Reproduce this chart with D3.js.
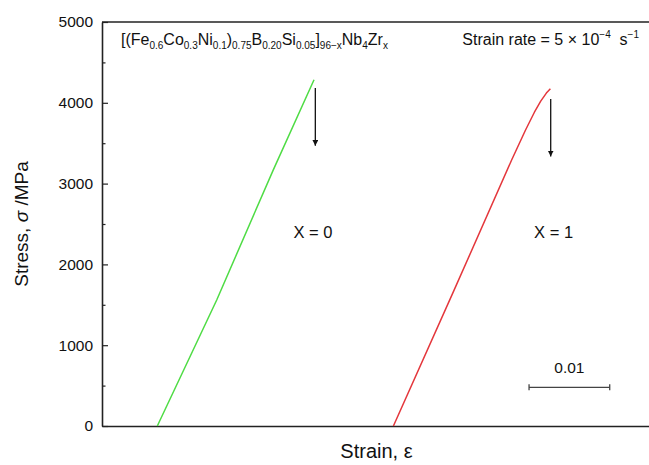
<!DOCTYPE html>
<html>
<head>
<meta charset="utf-8">
<style>
  body { margin: 0; background: #fff; }
  svg { display: block; font-family: "Liberation Sans", Arial, sans-serif; }
</style>
</head>
<body>
<div id="chart"></div>
<script src="https://d3js.org/d3.v7.min.js"></script>
<script>
// stress-strain curves (strain, MPa)
const greenStrain = [0.00687, 0.01425, 0.02128, 0.02634];
const greenStress = [0, 1560, 3170, 4285];
const redStrain = [0.0362, 0.0436, 0.0509, 0.0526, 0.0537, 0.0545, 0.0552, 0.0557];
const redStress = [0, 1650, 3295, 3660, 3880, 4020, 4120, 4175];

// fracture arrows: strain, stress start, stress end
const arrowStrain = [0.0265, 0.05574];
const arrowFrom = [4183, 4046];
const arrowTo = [3468, 3335];

const curveLabels = ["X = 0", "X = 1"];
const labelStrain = [0.0262, 0.0561];
const labelStress = 2330;

const yTicks = [0, 1000, 2000, 3000, 4000, 5000];
const yMinor = [500, 1500, 2500, 3500, 4500];

// scale bar
const barStrain = [0.05305, 0.06307];
const barStress = 479;
const barLabel = "0.01";

const width = 649, height = 465;
const margin = { top: 22, right: 0, bottom: 39, left: 102 };

const svg = d3.select("#chart").append("svg")
    .attr("width", width)
    .attr("height", height);

const x = d3.scaleLinear().domain([0, 0.068]).range([margin.left, margin.left + 0.068 * 8050]);
const y = d3.scaleLinear().domain([0, 5000]).range([height - margin.bottom, margin.top]);

// frame: left axis, bottom axis, top line
const axisColor = "#222";

const yAxis = svg.append("g")
    .attr("transform", `translate(${margin.left},0)`)
    .call(d3.axisLeft(y).tickValues(yTicks).tickSize(-6).tickSizeOuter(0)
      .tickPadding(9).tickFormat(d3.format("d")));
svg.append("g")
    .attr("transform", `translate(${margin.left},0)`)
    .call(d3.axisLeft(y).tickValues(yMinor).tickSize(-3.5).tickSizeOuter(0).tickFormat(""))
    .select(".domain").remove();
yAxis.selectAll("text").attr("font-size", 15.5).attr("fill", "#111").attr("font-family", null);

svg.append("g")
    .attr("transform", `translate(0,${y(0)})`)
    .call(d3.axisBottom(x).tickValues([]).tickSizeOuter(0));

svg.append("line")
    .attr("x1", margin.left).attr("x2", width)
    .attr("y1", y(5000)).attr("y2", y(5000));

svg.selectAll(".domain, .tick line, svg > line")
    .attr("stroke", axisColor)
    .attr("stroke-width", 1.6);
svg.selectAll(".tick line").attr("stroke-width", 1.2);

// curves
const line = d3.line().x(d => x(d[0])).y(d => y(d[1]));

svg.append("path")
    .datum(d3.zip(greenStrain, greenStress))
    .attr("d", line)
    .attr("fill", "none")
    .attr("stroke", "#4fdc45")
    .attr("stroke-width", 1.5);

svg.append("path")
    .datum(d3.zip(redStrain, redStress))
    .attr("d", line)
    .attr("fill", "none")
    .attr("stroke", "#e4373c")
    .attr("stroke-width", 1.5)
    .attr("stroke-linejoin", "round");

// arrows
svg.append("defs").append("marker")
    .attr("id", "head")
    .attr("viewBox", "0 0 10 10")
    .attr("refX", 10).attr("refY", 5)
    .attr("markerWidth", 6).attr("markerHeight", 6)
    .attr("markerUnits", "userSpaceOnUse")
    .attr("orient", "auto")
  .append("path")
    .attr("d", "M0,0 L10,5 L0,10 z")
    .attr("fill", "#111");

svg.selectAll(".arrow")
    .data(arrowStrain)
    .enter().append("line")
    .attr("class", "arrow")
    .attr("x1", d => x(d)).attr("x2", d => x(d))
    .attr("y1", (d, i) => y(arrowFrom[i]))
    .attr("y2", (d, i) => y(arrowTo[i]))
    .attr("stroke", "#111")
    .attr("stroke-width", 1.3)
    .attr("marker-end", "url(#head)");

svg.selectAll(".clabel")
    .data(curveLabels)
    .enter().append("text")
    .attr("class", "clabel")
    .attr("x", (d, i) => x(labelStrain[i]))
    .attr("y", y(labelStress))
    .attr("text-anchor", "middle")
    .attr("font-size", 16.5)
    .attr("fill", "#111")
    .text(d => d);

// scale bar
svg.append("line")
    .attr("x1", x(barStrain[0])).attr("x2", x(barStrain[1]))
    .attr("y1", y(barStress)).attr("y2", y(barStress))
    .attr("stroke", "#444").attr("stroke-width", 1.3);
svg.selectAll(".barend")
    .data(barStrain)
    .enter().append("line")
    .attr("x1", d => x(d)).attr("x2", d => x(d))
    .attr("y1", y(barStress) - 3).attr("y2", y(barStress) + 3)
    .attr("stroke", "#444").attr("stroke-width", 1.3);
svg.append("text")
    .attr("x", x((barStrain[0] + barStrain[1]) / 2))
    .attr("y", y(barStress) - 14)
    .attr("text-anchor", "middle")
    .attr("font-size", 15.5)
    .attr("fill", "#111")
    .text(barLabel);

// rich text with sub/superscripts
function richText(parent, parts, xPos, yPos, anchor) {
  const t = parent.append("text")
      .attr("x", xPos).attr("y", yPos)
      .attr("text-anchor", anchor)
      .attr("font-size", 16)
      .attr("fill", "#111");
  let shift = 0;
  parts.forEach(([txt, kind]) => {
    const target = kind === "sub" ? 4 : kind === "sup" ? -7 : 0;
    t.append("tspan")
        .attr("dy", target - shift)
        .attr("font-size", kind ? 10 : 16)
        .text(txt);
    shift = target;
  });
  return t;
}

richText(svg, [
  ["[(Fe"], ["0.6", "sub"], ["Co"], ["0.3", "sub"], ["Ni"], ["0.1", "sub"], [")"],
  ["0.75", "sub"], ["B"], ["0.20", "sub"], ["Si"], ["0.05", "sub"], ["]"],
  ["96\u2212x", "sub"], ["Nb"], ["4", "sub"], ["Zr"], ["x", "sub"]
], 121, 45, "start");

richText(svg, [
  ["Strain rate = 5 \u00d7 10"], ["\u22124", "sup"], ["  s"], ["\u22121", "sup"]
], 639, 45, "end").attr("xml:space", "preserve").style("white-space", "pre");

// axis titles
svg.append("text")
    .attr("transform", `translate(28,${(y(0) + y(5000)) / 2}) rotate(-90)`)
    .attr("text-anchor", "middle")
    .attr("font-size", 19)
    .attr("fill", "#111")
    .html('Stress, <tspan font-style="italic">\u03c3</tspan> /MPa');

svg.append("text")
    .attr("x", x(0.0341))
    .attr("y", 458)
    .attr("text-anchor", "middle")
    .attr("font-size", 20)
    .attr("fill", "#111")
    .text("Strain, \u03b5");
</script>
</body>
</html>
